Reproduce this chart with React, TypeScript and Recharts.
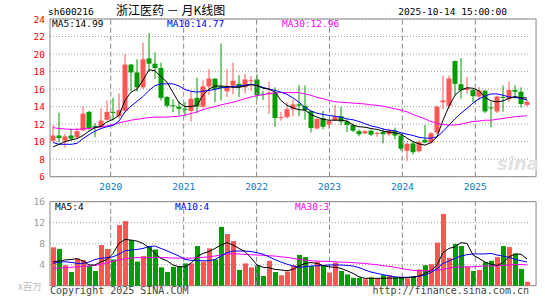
import React from "react";
import {
  ComposedChart, Bar, Line, XAxis, YAxis, CartesianGrid, ReferenceLine, ReferenceArea, Cell,
} from "recharts";

const RED = "#ff5555";
const GREEN = "#009c00";
const BLUE = "#0000ff";
const MAGENTA = "#ff00ff";
const MONO = "'DejaVu Sans Mono', monospace";
const CJK = "'Noto Sans CJK SC', sans-serif";

// monthly candles, 2019-03 .. 2025-10
const months = Array.from({ length: 80 }, (_, i) => {
  const m = 2 + i;
  return `${2019 + Math.floor(m / 12)}-${String((m % 12) + 1).padStart(2, "0")}`;
});

const open = [10.1, 10.7, 10.1, 10.7, 10.5, 11.3, 13.4, 11.8, 11.7, 12.5,
  13.4, 12.9, 13.5, 18.8, 17.9, 16.2, 19.5, 18.9, 18.4, 15.1,
  14.15, 14.0, 13.75, 13.5, 15.0, 14.0, 16.3, 17.2, 16.3, 15.75,
  16.4, 16.6, 16.2, 16.9, 17.1, 15.45, 15.4, 15.6, 12.7, 12.8,
  13.7, 14.25, 14.1, 13.5, 11.5, 12.7, 11.95, 12.45, 12.9, 12.3,
  11.9, 11.2, 10.95, 11.25, 10.9, 11.1, 10.85, 11.2, 10.7, 8.95,
  9.8, 8.9, 10.2, 9.9, 11.05, 14.5, 14.1, 19.2, 16.55, 15.9,
  15.9, 15.15, 15.8, 13.9, 13.45, 15.1, 14.85, 15.9, 15.7, 14.2];
const high = [11.9, 13.3, 10.9, 11.5, 11.6, 14.0, 13.5, 12.1, 13.8, 14.7,
  15.0, 15.5, 20.0, 18.85, 19.4, 21.3, 22.4, 20.2, 19.0, 15.2,
  14.8, 14.6, 14.5, 15.8, 17.3, 17.0, 18.3, 17.2, 21.2, 18.3,
  19.0, 17.6, 17.7, 17.5, 17.7, 15.8, 16.8, 16.2, 13.4, 14.5,
  14.85, 16.45, 16.4, 13.55, 12.65, 13.5, 12.55, 14.2, 14.0, 12.6,
  12.1, 11.4, 11.35, 11.4, 11.1, 11.5, 11.5, 11.6, 10.75, 10.0,
  10.1, 10.1, 11.9, 11.1, 14.1, 17.55, 17.55, 19.25, 19.55, 17.4,
  16.05, 16.25, 15.9, 14.5, 15.25, 16.4, 16.85, 16.45, 16.2, 14.75];
const low = [10.0, 9.9, 9.3, 10.1, 10.3, 11.2, 11.3, 10.5, 11.5, 12.4,
  12.4, 12.6, 13.4, 15.8, 15.7, 16.0, 18.0, 17.2, 14.7, 13.9,
  13.35, 13.0, 12.9, 12.3, 13.2, 13.8, 15.3, 14.5, 14.7, 15.1,
  15.4, 15.1, 15.5, 15.8, 14.8, 14.75, 13.15, 11.7, 12.4, 12.65,
  12.9, 12.9, 12.5, 11.05, 11.4, 11.4, 11.5, 12.35, 11.9, 11.1,
  11.1, 10.6, 10.85, 10.65, 10.55, 9.8, 10.65, 10.3, 8.95, 7.8,
  8.55, 8.75, 9.85, 9.75, 10.85, 13.7, 13.7, 15.3, 14.9, 15.45,
  14.5, 14.75, 13.25, 11.6, 13.25, 13.4, 14.5, 14.9, 13.9, 14.05];
const close = [10.7, 10.4, 10.6, 10.35, 11.2, 13.2, 11.5, 11.6, 12.4, 13.4,
  13.3, 13.6, 18.8, 17.9, 16.2, 19.4, 18.9, 18.4, 15.0, 14.1,
  14.05, 13.75, 13.7, 14.9, 14.0, 16.3, 17.2, 16.0, 16.1, 16.25,
  16.95, 16.2, 17.1, 17.0, 15.3, 15.35, 15.6, 12.7, 12.8, 13.7,
  14.25, 14.1, 13.6, 11.55, 12.6, 11.7, 12.35, 12.9, 12.3, 11.9,
  11.25, 10.85, 11.2, 10.8, 11.0, 10.85, 11.25, 10.7, 9.2, 9.75,
  8.8, 9.95, 9.9, 10.95, 14.0, 14.7, 17.2, 16.6, 15.85, 16.1,
  15.2, 15.85, 13.45, 13.85, 15.15, 15.0, 15.9, 15.7, 14.3, 14.55];

const ma5 = [9.4, 9.7, 10.0, 10.2, 10.35, 10.7, 11.2, 11.6, 11.75, 12.25,
  12.55, 13.0, 14.7, 15.65, 16.0, 17.0, 18.2, 18.1, 17.4, 16.8,
  15.6, 14.45, 14.0, 14.0, 14.15, 15.3, 16.0, 16.35, 16.35, 16.3,
  16.2, 16.2, 16.35, 16.5, 16.4, 16.1, 16.0, 15.65, 14.7, 14.15,
  13.85, 13.65, 13.6, 13.1, 12.8, 12.55, 12.45, 12.45, 12.45, 12.35,
  11.9, 11.7, 11.65, 11.5, 11.4, 11.2, 11.1, 11.0, 10.85, 10.4,
  10.0, 9.75, 9.6, 9.9, 10.55, 12.45, 14.05, 15.3, 15.9, 16.15,
  16.1, 15.8, 15.05, 14.65, 14.55, 14.65, 14.95, 15.15, 15.0, 14.99];
const ma10 = [9.9, 9.7, 9.7, 9.7, 9.8, 10.35, 10.8, 11.2, 11.5, 11.7,
  11.85, 12.35, 13.4, 14.05, 14.6, 15.15, 15.85, 16.4, 16.6, 16.6,
  16.6, 16.35, 15.95, 15.75, 15.65, 15.75, 15.85, 15.95, 16.15, 16.2,
  16.3, 16.35, 16.45, 16.55, 16.4, 16.2, 16.0, 15.85, 15.65, 15.4,
  15.0, 14.5, 13.9, 13.5, 13.25, 13.1, 13.0, 12.9, 12.8, 12.6,
  12.5, 12.3, 12.05, 11.8, 11.65, 11.45, 11.3, 11.25, 11.0, 10.85,
  10.7, 10.5, 10.4, 10.4, 10.55, 11.15, 11.9, 12.6, 13.25, 13.8,
  14.4, 14.9, 15.2, 15.45, 15.45, 15.3, 15.1, 15.05, 14.95, 14.77];
const ma30 = [11.6, 11.5, 11.45, 11.4, 11.4, 11.45, 11.5, 11.6, 11.7, 11.8,
  11.95, 12.15, 12.3, 12.45, 12.55, 12.65, 12.75, 12.8, 12.8, 12.8,
  12.85, 12.9, 13.05, 13.2, 13.4, 13.65, 13.85, 14.0, 14.2, 14.35,
  14.5, 14.7, 14.9, 15.1, 15.25, 15.35, 15.5, 15.55, 15.6, 15.6,
  15.6, 15.6, 15.45, 15.3, 15.05, 14.9, 14.7, 14.55, 14.5, 14.45,
  14.4, 14.35, 14.3, 14.2, 14.15, 14.05, 13.9, 13.75, 13.6, 13.4,
  13.1, 12.85, 12.6, 12.3, 12.1, 11.95, 11.9, 11.9, 12.0, 12.15,
  12.3, 12.35, 12.45, 12.45, 12.55, 12.65, 12.75, 12.85, 12.9, 12.96];

// volume, millions of shares
const vol = [7.3, 7.0, 3.9, 2.6, 5.2, 4.9, 3.75, 2.8, 7.75, 7.0,
  5.0, 11.55, 12.3, 8.7, 4.6, 5.65, 7.4, 6.9, 3.5, 2.6,
  3.6, 3.75, 4.25, 4.25, 7.55, 4.6, 7.1, 5.0, 11.2, 9.85,
  8.5, 3.0, 4.25, 3.5, 3.9, 1.85, 4.75, 2.6, 2.0, 2.7,
  3.9, 5.85, 5.45, 3.75, 4.6, 3.9, 2.5, 4.4, 2.8, 2.15,
  1.5, 1.5, 1.25, 1.6, 1.4, 2.0, 2.0, 1.6, 1.6, 1.35,
  1.85, 3.1, 3.9, 4.1, 8.2, 13.65, 5.3, 7.95, 7.55, 3.6,
  2.8, 3.0, 4.5, 4.75, 5.45, 7.55, 7.35, 6.15, 3.2, 0.75];
const vma5 = [4.55, 4.7, 4.9, 5.0, 5.15, 4.7, 3.95, 3.95, 4.55, 5.0,
  6.15, 8.05, 8.8, 8.7, 8.5, 8.05, 7.25, 6.15, 5.2, 4.75,
  3.95, 3.6, 3.6, 4.25, 5.5, 6.15, 6.5, 7.1, 7.75, 8.2,
  7.75, 7.1, 6.5, 5.3, 3.95, 3.5, 3.45, 3.1, 3.0, 2.85,
  3.1, 3.75, 4.25, 4.4, 4.25, 3.85, 3.6, 3.5, 3.3, 2.85,
  2.35, 1.7, 1.4, 1.4, 1.4, 1.4, 1.45, 1.45, 1.5, 1.5,
  1.6, 1.85, 2.35, 2.85, 3.95, 6.3, 7.1, 7.4, 8.2, 8.05,
  5.85, 5.2, 4.5, 4.1, 3.85, 4.4, 5.5, 6.0, 6.0, 5.1];
const vma10 = [4.25, 4.5, 4.55, 4.45, 4.25, 4.25, 4.5, 5.0, 5.2, 5.35,
  5.5, 6.0, 6.65, 6.8, 6.9, 7.1, 7.45, 7.55, 7.1, 6.65,
  6.15, 5.65, 5.0, 4.85, 4.75, 4.75, 4.75, 5.0, 5.65, 6.3,
  6.6, 6.6, 6.6, 6.5, 6.3, 6.0, 5.5, 4.95, 4.5, 4.1,
  3.75, 3.5, 3.6, 3.75, 3.8, 3.85, 3.95, 3.95, 3.95, 3.85,
  3.75, 3.45, 3.0, 2.6, 2.35, 2.1, 1.9, 1.7, 1.6, 1.6,
  1.65, 1.8, 2.0, 2.5, 3.25, 4.25, 4.7, 5.2, 5.65, 5.9,
  6.05, 6.05, 6.05, 6.15, 5.85, 5.65, 5.4, 5.0, 4.75, 4.5];
const vma30 = [3.3, 3.35, 3.45, 3.5, 3.6, 3.7, 3.75, 3.85, 4.1, 4.4,
  4.65, 4.9, 5.15, 5.25, 5.35, 5.35, 5.35, 5.35, 5.35, 5.35,
  5.25, 5.25, 5.25, 5.25, 5.35, 5.4, 5.5, 5.65, 5.85, 6.05,
  6.05, 6.05, 5.95, 5.9, 5.85, 5.8, 5.7, 5.65, 5.5, 5.4,
  5.2, 5.0, 4.9, 4.75, 4.7, 4.65, 4.65, 4.55, 4.5, 4.45,
  4.4, 4.3, 4.25, 4.1, 4.0, 3.8, 3.7, 3.5, 3.3, 3.1,
  2.9, 2.85, 2.85, 2.9, 3.0, 3.1, 3.35, 3.5, 3.55, 3.6,
  3.6, 3.7, 3.75, 3.75, 3.8, 3.85, 3.95, 4.0, 4.05, 3.95];

const priceTicks = [6, 8, 10, 12, 14, 16, 18, 20, 22, 24];
const volTicks = [4, 8, 12, 16];

const data = months.map((month, i) => ({
  month,
  open: open[i], high: high[i], low: low[i], close: close[i],
  range: [low[i], high[i]],
  ma5: ma5[i], ma10: ma10[i], ma30: ma30[i],
  vol: vol[i], vma5: vma5[i], vma10: vma10[i], vma30: vma30[i],
}));

// index of each January -> year separators
const yearTicks = months.map((m, i) => (m.endsWith("-01") ? i : -1)).filter((i) => i >= 0);

const Candle = (props: any) => {
  const { x, y, width, height, payload } = props;
  const top = Math.min(y, y + height);
  const h = Math.abs(height);
  const { open: o, close: c, high: hi, low: lo } = payload;
  const color = c >= o ? RED : GREEN;
  const k = h / (hi - lo);
  const yOf = (v: number) => top + (hi - v) * k;
  const cx = x + width / 2 - 0.5;
  const bTop = yOf(Math.max(o, c));
  const bBot = yOf(Math.min(o, c));
  return (
    <g>
      <line x1={cx} x2={cx} y1={top} y2={top + h} stroke={color} strokeWidth={1} />
      <rect x={cx - 2.5} y={bTop} width={5} height={Math.max(bBot - bTop, 1)} fill={color} />
    </g>
  );
};

const PriceTick = ({ x, y, payload }: any) => (
  <text x={x} y={y + 3.5} textAnchor="end" fill="#ff0000" fontSize={9.5} fontFamily={MONO}>
    {payload.value}
  </text>
);

const VolTick = ({ x, y, payload }: any) => (
  <text x={x} y={y + 3.5} textAnchor="end" fill="#999999" fontSize={9.5} fontFamily={MONO}>
    {payload.value}
  </text>
);

// year labels sit in the gap between the two panels
const YearTick = ({ x, payload }: any) => (
  <text x={x} y={190} textAnchor="middle" fill="#0a78c8" fontSize={9.5} fontFamily={MONO}>
    {months[payload.value].slice(0, 4)}
  </text>
);

const W = 545;
const H = 300;

function PriceChart() {
  return (
    <ComposedChart width={W} height={H} data={data}
      margin={{ top: 19, right: 15, bottom: 103.3, left: 0 }}>
      <XAxis xAxisId="c" dataKey="month" hide />
      <XAxis xAxisId="n" type="number" domain={[0, 80]} ticks={yearTicks} interval={0}
        axisLine={false} tickLine={false} tickSize={0} tickMargin={0} height={20} tick={<YearTick />} />
      <YAxis domain={[6, 24]} ticks={priceTicks} interval={0} width={50} axisLine={false}
        tickLine={false} tickSize={0} tickMargin={5} tick={<PriceTick />} />
      <CartesianGrid xAxisId="c" vertical={false} stroke="#a0a0a0" strokeDasharray="1 2" />
      {yearTicks.map((t) => (
        <ReferenceLine key={t} xAxisId="n" x={t} stroke="#888" strokeDasharray="5 3" />
      ))}
      <ReferenceArea xAxisId="n" x1={0} x2={80} y1={6} y2={24} fill="none" fillOpacity={0}
        stroke="#888" strokeWidth={1} ifOverflow="visible" />
      <Bar xAxisId="c" dataKey="range" barSize={5} shape={<Candle />} isAnimationActive={false} />
      <Line xAxisId="c" dataKey="ma30" stroke={MAGENTA} strokeWidth={1} dot={false} isAnimationActive={false} />
      <Line xAxisId="c" dataKey="ma10" stroke={BLUE} strokeWidth={1} dot={false} isAnimationActive={false} />
      <Line xAxisId="c" dataKey="ma5" stroke="#000" strokeWidth={1} dot={false} isAnimationActive={false} />
    </ComposedChart>
  );
}

function VolumeChart() {
  return (
    <ComposedChart width={W} height={H} data={data}
      margin={{ top: 201.7, right: 15, bottom: 14.3, left: 0 }}>
      <XAxis xAxisId="c" dataKey="month" hide />
      <XAxis xAxisId="n" type="number" domain={[0, 80]} hide />
      <YAxis domain={[0, 16]} ticks={volTicks} interval={0} width={50} axisLine={false}
        tickLine={false} tickSize={0} tickMargin={5} tick={<VolTick />} />
      <CartesianGrid xAxisId="c" vertical={false} stroke="#a0a0a0" strokeDasharray="1 2" />
      {yearTicks.map((t) => (
        <ReferenceLine key={t} xAxisId="n" x={t} stroke="#888" strokeDasharray="5 3" />
      ))}
      <ReferenceArea xAxisId="n" x1={0} x2={80} y1={0} y2={16} fill="none" fillOpacity={0}
        stroke="#888" strokeWidth={1} ifOverflow="visible" />
      <Bar xAxisId="c" dataKey="vol" barSize={5} isAnimationActive={false}>
        {data.map((d) => (
          <Cell key={d.month} fill={d.close >= d.open ? RED : GREEN} />
        ))}
      </Bar>
      <Line xAxisId="c" dataKey="vma30" stroke={MAGENTA} strokeWidth={1} dot={false} isAnimationActive={false} />
      <Line xAxisId="c" dataKey="vma10" stroke={BLUE} strokeWidth={1} dot={false} isAnimationActive={false} />
      <Line xAxisId="c" dataKey="vma5" stroke="#000" strokeWidth={1} dot={false} isAnimationActive={false} />
    </ComposedChart>
  );
}

export default function App() {
  const layer: React.CSSProperties = { position: "absolute", left: 0, top: 0 };
  return (
    <div style={{ position: "absolute", left: 0, top: 0, width: W, height: H, background: "#fff" }}>
      <div style={layer}><PriceChart /></div>
      <div style={layer}><VolumeChart /></div>
      <svg style={layer} width={W} height={H}>
        <text x={497} y={170} fontSize={18} fontStyle="italic" fontWeight="bold" fill="#e2e2e2"
          fontFamily="'DejaVu Sans', sans-serif">sina</text>
        <text x={48} y={15} fontSize={9.5} fontFamily={MONO} fill="#000">sh600216</text>
        <text x={116} y={15} fontSize={12} fontFamily={CJK} fill="#000">浙江医药 － 月K线图</text>
        <text x={507} y={15} textAnchor="end" fontSize={9.5} fontFamily={MONO} fill="#000">2025-10-14 15:00:00</text>
        <text x={52} y={27} fontSize={9.5} fontFamily={MONO} fill="#000">MA5:14.99</text>
        <text x={167} y={27} fontSize={9.5} fontFamily={MONO} fill={BLUE}>MA10:14.77</text>
        <text x={282} y={27} fontSize={9.5} fontFamily={MONO} fill={MAGENTA}>MA30:12.96</text>
        <text x={55} y={210} fontSize={9.5} fontFamily={MONO} fill="#000">MA5:4</text>
        <text x={175} y={210} fontSize={9.5} fontFamily={MONO} fill={BLUE}>MA10:4</text>
        <text x={295} y={210} fontSize={9.5} fontFamily={MONO} fill={MAGENTA}>MA30:3</text>
        <text x={18} y={290} fontSize={9.5} fontFamily={CJK} fill="#bbbbbb">x百万</text>
        <text x={50} y={294} fontSize={10} fontFamily={MONO} fill="#444">Copyright 2025 SINA.COM</text>
        <text x={529} y={294} textAnchor="end" fontSize={10} fontFamily={MONO} fill="#444">http://finance.sina.com.cn</text>
      </svg>
    </div>
  );
}
